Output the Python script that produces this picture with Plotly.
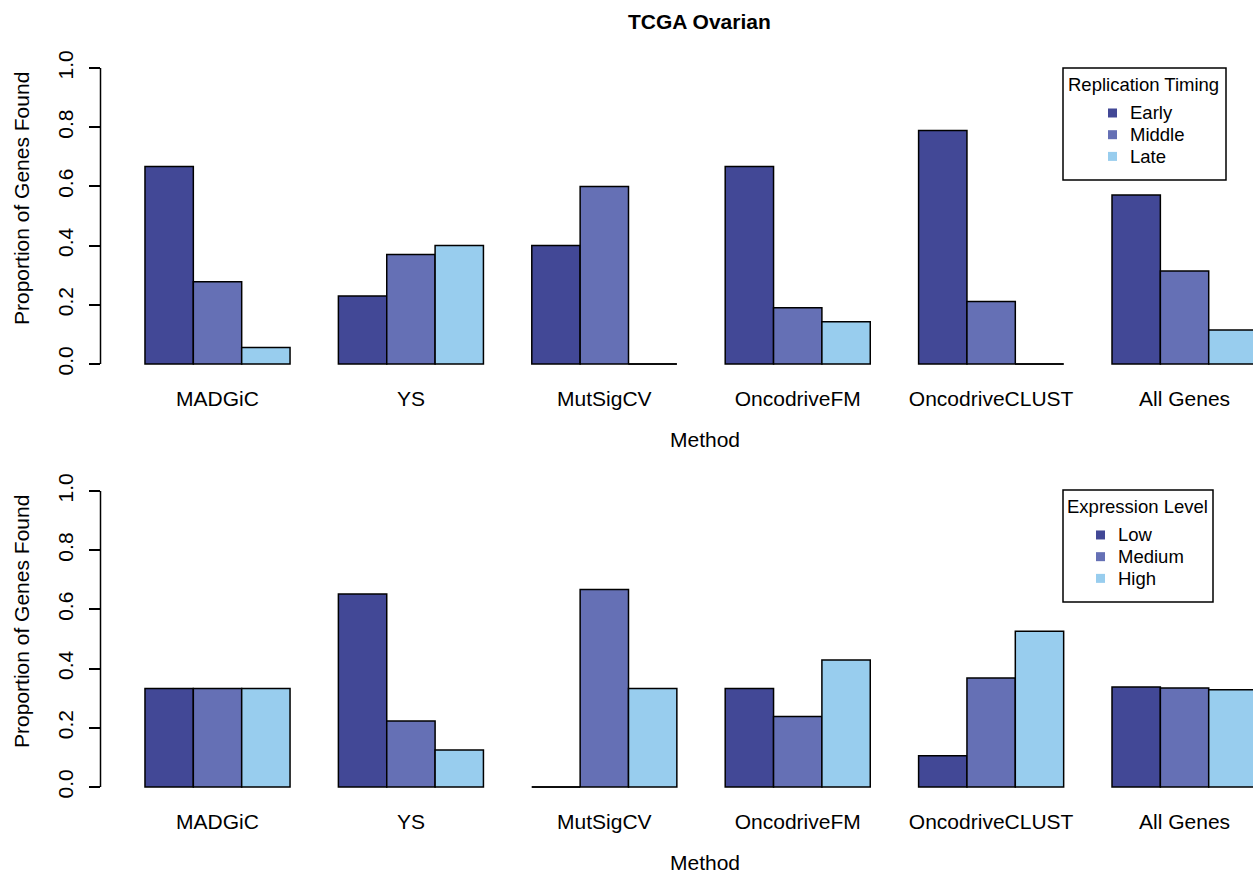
import plotly.graph_objects as go

methods = ["MADGiC", "YS", "MutSigCV", "OncodriveFM", "OncodriveCLUST", "All Genes"]

# Top panel: replication timing
timing_labels = ["Early", "Middle", "Late"]
timing_early = [0.667, 0.230, 0.400, 0.667, 0.789, 0.571]
timing_middle = [0.278, 0.370, 0.600, 0.190, 0.211, 0.314]
timing_late = [0.056, 0.400, 0.000, 0.143, 0.000, 0.115]

# Bottom panel: expression level
expr_labels = ["Low", "Medium", "High"]
expr_low = [0.333, 0.652, 0.000, 0.333, 0.105, 0.338]
expr_medium = [0.333, 0.223, 0.667, 0.238, 0.368, 0.334]
expr_high = [0.333, 0.125, 0.333, 0.429, 0.526, 0.328]

colors = ["#424896", "#6570B5", "#98CDEE"]
ytick_vals = [0.0, 0.2, 0.4, 0.6, 0.8, 1.0]

W, H = 1253, 875
FONT = "Liberation Sans, Arial, Helvetica, sans-serif"


def px_x(p):
    return p / W


def px_y(p):
    # target pixel row -> paper fraction (small correction for the capture offset)
    page = (p - 6) / 0.9932
    return 1 - page / H


fig = go.Figure()

# legend box geometry (pixels): left, right, top, title centre x, text x
legend_geom = [
    dict(left=1063, right=1226, top=68, title_cx=1143.5, text_x=1130),
    dict(left=1063, right=1213, top=490, title_cx=1137, text_x=1118),
]

panels = [
    ("x", "y", [timing_early, timing_middle, timing_late], timing_labels, "Replication Timing"),
    ("x2", "y2", [expr_low, expr_medium, expr_high], expr_labels, "Expression Level"),
]

shapes = []
annotations = []
for (xa, ya, series, labels, ltitle), lg in zip(panels, legend_geom):
    for j, (vals, lab) in enumerate(zip(series, labels)):
        fig.add_trace(go.Bar(
            x=methods, y=vals, name=lab, xaxis=xa, yaxis=ya,
            marker=dict(color=colors[j], line=dict(color="black", width=1.5)),
            showlegend=False,
        ))
        # zero-height bars drawn as a flat line, like R's barplot
        for i, v in enumerate(vals):
            if v == 0:
                x0 = i - 0.375 + 0.25 * j
                shapes.append(dict(type="line", xref=xa, yref=ya, x0=x0, x1=x0 + 0.25,
                                   y0=0, y1=0, line=dict(color="black", width=1.5)))
    # y axis line from first to last tick
    shapes.append(dict(type="line", xref=f"{xa} domain", yref=ya, x0=0, x1=0,
                       y0=ytick_vals[0], y1=ytick_vals[-1], line=dict(color="black", width=1.5)))

    # legend (R style boxed legend)
    top = lg["top"]
    shapes.append(dict(type="rect", xref="paper", yref="paper",
                       x0=px_x(lg["left"]), x1=px_x(lg["right"]),
                       y0=px_y(top + 112), y1=px_y(top),
                       line=dict(color="black", width=1.5), fillcolor="white"))
    annotations.append(dict(text=ltitle, x=px_x(lg["title_cx"]), y=px_y(top + 16.5),
                            xref="paper", yref="paper", showarrow=False,
                            xanchor="center", yanchor="middle",
                            font=dict(size=18.5, family=FONT, color="black")))
    for j, lab in enumerate(labels):
        cy = top + 45 + 21.7 * j
        cx = lg["text_x"] - 17.5
        shapes.append(dict(type="rect", xref="paper", yref="paper",
                           x0=px_x(cx - 4.5), x1=px_x(cx + 4.5),
                           y0=px_y(cy + 4.5), y1=px_y(cy - 4.5),
                           line=dict(width=0), fillcolor=colors[j]))
        annotations.append(dict(text=lab, x=px_x(lg["text_x"] - 2), y=px_y(cy),
                                xref="paper", yref="paper", showarrow=False,
                                xanchor="left", yanchor="middle",
                                font=dict(size=18.5, family=FONT, color="black")))

xdom = [px_x(100.5), 1.0]
xrange = [-0.605, 5.354]
xaxis_common = dict(domain=xdom, range=xrange, type="category", showgrid=False, zeroline=False,
                    showline=False, ticks="outside", ticklen=4, tickcolor="rgba(0,0,0,0)",
                    tickfont=dict(size=21, color="black", family=FONT), fixedrange=True)
yaxis_common = dict(range=[-0.04, 1.04], showgrid=False, zeroline=False, showline=False,
                    ticks="outside", ticklen=11, tickwidth=1.5, tickcolor="black",
                    tickvals=ytick_vals, tickformat=".1f", tickangle=-90, ticklabelstandoff=7,
                    tickfont=dict(size=21, color="black", family=FONT), fixedrange=True)

annotations.append(dict(text="<b>TCGA Ovarian</b>", x=px_x(699), y=px_y(22), xref="paper", yref="paper",
                        showarrow=False, font=dict(size=21, family=FONT, color="black"),
                        xanchor="center", yanchor="middle"))
for off in (0, 423):
    annotations.append(dict(text="Method", x=px_x(705), y=px_y(440 + off), xref="paper", yref="paper",
                            showarrow=False, font=dict(size=21, family=FONT, color="black"),
                            xanchor="center", yanchor="middle"))
    annotations.append(dict(text="Proportion of Genes Found", x=px_x(22), y=px_y(199 + off),
                            xref="paper", yref="paper", textangle=-90, showarrow=False,
                            font=dict(size=21, family=FONT, color="black"),
                            xanchor="center", yanchor="middle"))

fig.update_layout(
    width=W, height=H,
    margin=dict(l=0, r=0, t=0, b=0),
    paper_bgcolor="white", plot_bgcolor="white",
    barmode="group", bargap=0.25, bargroupgap=0,
    showlegend=False,
    font=dict(family=FONT, color="black"),
    xaxis=dict(xaxis_common, anchor="y"),
    yaxis=dict(yaxis_common, domain=[px_y(375.84), px_y(56.16)], anchor="x"),
    xaxis2=dict(xaxis_common, anchor="y2"),
    yaxis2=dict(yaxis_common, domain=[px_y(798.84), px_y(479.16)], anchor="x2"),
    shapes=shapes,
    annotations=annotations,
)

fig.write_html("out.html", config={"displayModeBar": False},
               post_script="document.body.style.margin='0';document.body.style.overflow='hidden';")
